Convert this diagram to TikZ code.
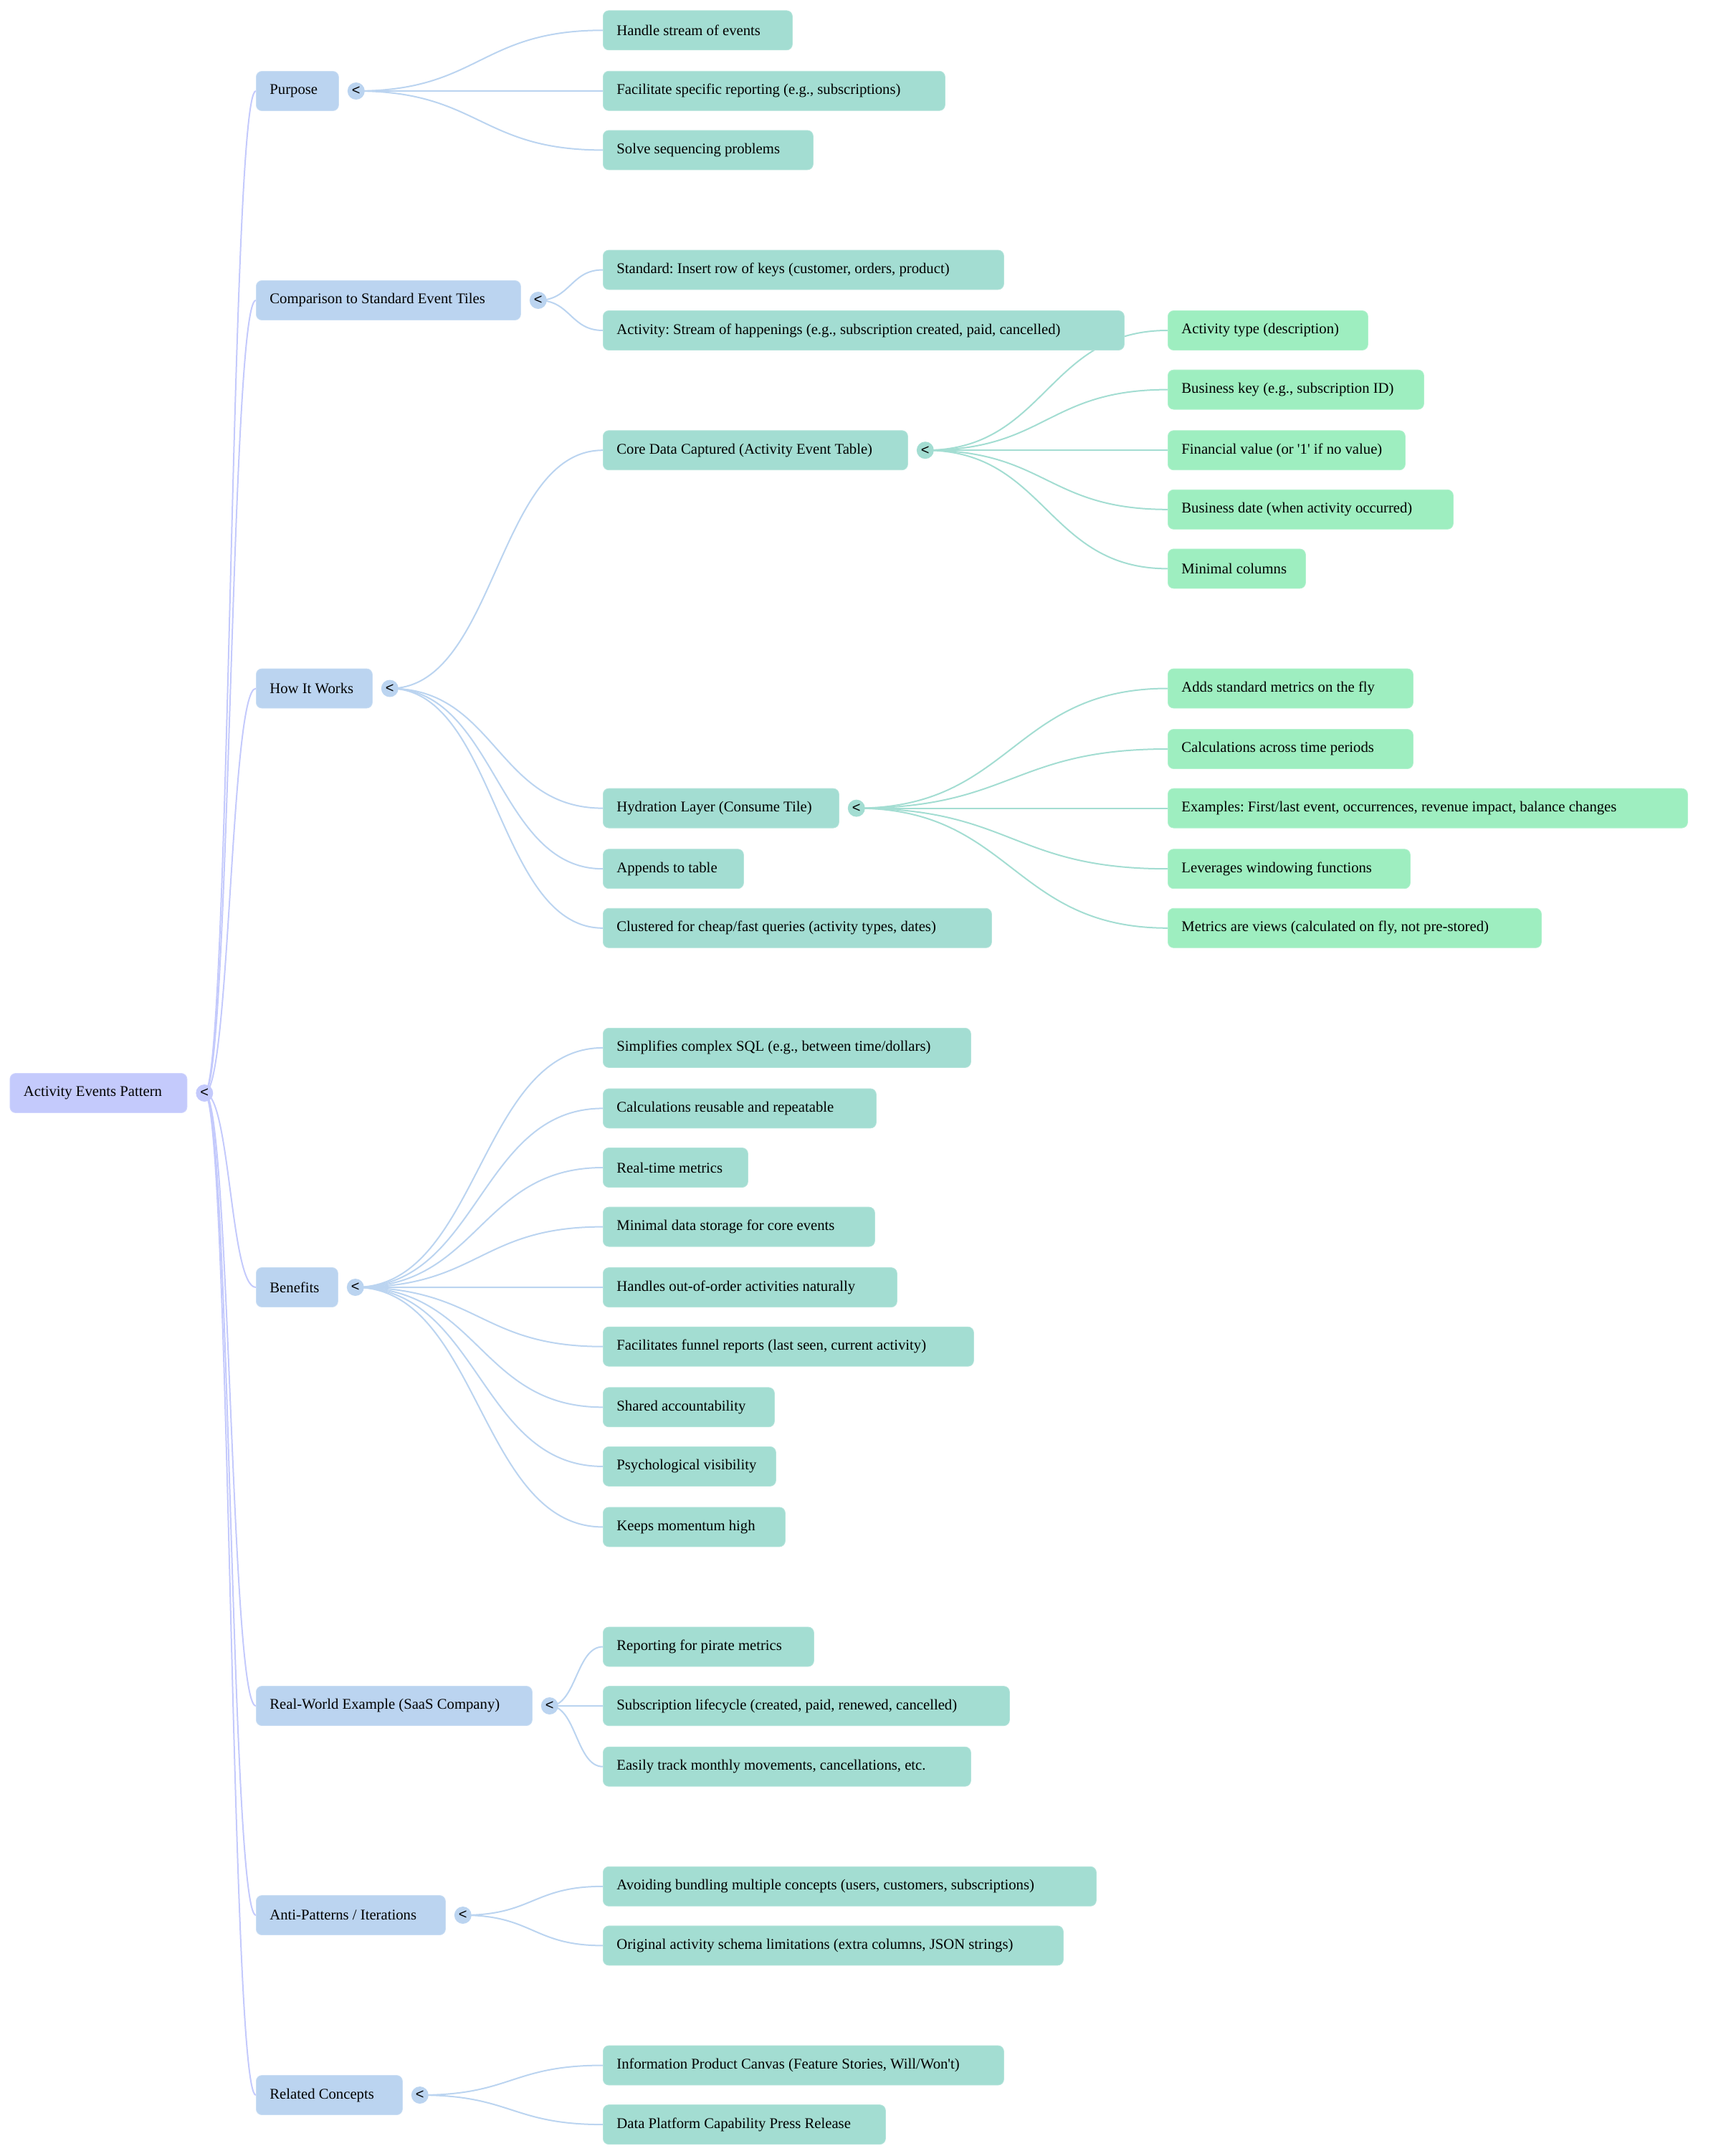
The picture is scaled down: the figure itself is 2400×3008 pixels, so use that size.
\documentclass[tikz,border=0pt]{standalone}
\usepackage{fontspec}
\setmainfont{Liberation Serif}
\newfontfamily\togfont{Liberation Sans}
\usetikzlibrary{calc}
\frenchspacing
\definecolor{c0}{RGB}{196,202,252}
\definecolor{c1}{RGB}{187,212,240}
\definecolor{c2}{RGB}{163,221,210}
\definecolor{c3}{RGB}{158,238,192}
\pgfdeclarelayer{bg}
\pgfsetlayers{bg,main}
\tikzset{
  box/.style={anchor=west, rounded corners=4pt, minimum height=27.5pt,
    inner xsep=9.5pt, inner ysep=0pt, font=\fontsize{10.35}{12}\selectfont\frenchspacing},
  lv0/.style={box, fill=c0, draw=c0!80!white},
  lv1/.style={box, fill=c1, draw=c1!80!white},
  lv2/.style={box, fill=c2, draw=c2!80!white},
  lv3/.style={box, fill=c3, draw=c3!80!white},
  tog/.style={circle, minimum size=12pt, inner sep=0pt, font=\togfont\fontsize{10}{10}\selectfont},
  link/.style={line width=1pt},
}
\newcommand\mmnode[6]{%
  \pgfmathsetmacro\mmtw{(#5-38)*0.5}%
  \node[#1] (#2) at (#3,#4) {\makebox[\mmtw pt][l]{#6}};}
\newcommand\mmtog[2]{%
  \node[tog, fill=#1] (#2T) at ([xshift=12pt]#2.east) {<};}
\newcommand\mmlink[3]{%
  \draw[link, #1] let \p1=(#2T.center), \p2=(#3.west) in
    (\p1) .. controls ({(\x1+\x2)/2},\y1) and ({(\x1+\x2)/2},\y2) .. (\p2);}
\begin{document}
\begin{tikzpicture}[x=0.5pt, y=-0.5pt]
\useasboundingbox (0,0) rectangle (2400,3008);
% root
\mmnode{lv0}{root}{13.5}{1525}{247}{Activity Events Pattern}
% level 1
\mmnode{lv1}{purp}{357}{127}{115}{Purpose}
\mmnode{lv1}{comp}{357}{419}{369}{Comparison to Standard Event Tiles}
\mmnode{lv1}{how}{357}{960.5}{162}{How It Works}
\mmnode{lv1}{ben}{357}{1796}{114}{Benefits}
\mmnode{lv1}{real}{357}{2380}{385}{Real-World Example (SaaS Company)}
\mmnode{lv1}{anti}{357}{2672}{264}{Anti-Patterns / Iterations}
\mmnode{lv1}{rel}{357}{2923}{204}{Related Concepts}
% level 2
\mmnode{lv2}{hse}{841}{42.3}{264}{Handle stream of events}
\mmnode{lv2}{fsr}{841}{126.8}{477}{Facilitate specific reporting (e.g., subscriptions)}
\mmnode{lv2}{ssp}{841}{209.4}{293}{Solve sequencing problems}
\mmnode{lv2}{std}{841}{376.5}{559}{Standard: Insert row of keys (customer, orders, product)}
\mmnode{lv2}{act}{841}{461}{727}{Activity: Stream of happenings (e.g., subscription created, paid, cancelled)}
\mmnode{lv2}{core}{841}{628.2}{425}{Core Data Captured (Activity Event Table)}
\mmnode{lv2}{hyd}{841}{1127.6}{329}{Hydration Layer (Consume Tile)}
\mmnode{lv2}{app}{841}{1212.2}{196}{Appends to table}
\mmnode{lv2}{clu}{841}{1294.8}{542}{Clustered for cheap/fast queries (activity types, dates)}
\mmnode{lv2}{b1}{841}{1461.9}{513}{Simplifies complex SQL (e.g., between time/dollars)}
\mmnode{lv2}{b2}{841}{1546.4}{381}{Calculations reusable and repeatable}
\mmnode{lv2}{b3}{841}{1629}{202}{Real-time metrics}
\mmnode{lv2}{b4}{841}{1711.6}{379}{Minimal data storage for core events}
\mmnode{lv2}{b5}{841}{1796.1}{410}{Handles out-of-order activities naturally}
\mmnode{lv2}{b6}{841}{1878.7}{517}{Facilitates funnel reports (last seen, current activity)}
\mmnode{lv2}{b7}{841}{1963.3}{239}{Shared accountability}
\mmnode{lv2}{b8}{841}{2045.9}{241}{Psychological visibility}
\mmnode{lv2}{b9}{841}{2130.4}{254}{Keeps momentum high}
\mmnode{lv2}{r1}{841}{2297.5}{294}{Reporting for pirate metrics}
\mmnode{lv2}{r2}{841}{2380.1}{567}{Subscription lifecycle (created, paid, renewed, cancelled)}
\mmnode{lv2}{r3}{841}{2464.7}{513}{Easily track monthly movements, cancellations, etc.}
\mmnode{lv2}{a1}{841}{2631.8}{688}{Avoiding bundling multiple concepts (users, customers, subscriptions)}
\mmnode{lv2}{a2}{841}{2714.4}{642}{Original activity schema limitations (extra columns, JSON strings)}
\mmnode{lv2}{c1n}{841}{2881.5}{559}{Information Product Canvas (Feature Stories, Will/Won\textquotesingle t)}
\mmnode{lv2}{c2n}{841}{2964.1}{394}{Data Platform Capability Press Release}
% level 3
\mmnode{lv3}{k1}{1629}{461}{279}{Activity type (description)}
\mmnode{lv3}{k2}{1629}{543.6}{357}{Business key (e.g., subscription ID)}
\mmnode{lv3}{k3}{1629}{628.2}{331}{Financial value (or \textquotesingle 1\textquotesingle{} if no value)}
\mmnode{lv3}{k4}{1629}{710.8}{398}{Business date (when activity occurred)}
\mmnode{lv3}{k5}{1629}{793.4}{192}{Minimal columns}
\mmnode{lv3}{h1}{1629}{960.5}{342}{Adds standard metrics on the fly}
\mmnode{lv3}{h2}{1629}{1045}{342}{Calculations across time periods}
\mmnode{lv3}{h3}{1629}{1127.6}{725}{Examples: First/last event, occurrences, revenue impact, balance changes}
\mmnode{lv3}{h4}{1629}{1212.2}{338}{Leverages windowing functions}
\mmnode{lv3}{h5}{1629}{1294.8}{521}{Metrics are views (calculated on fly, not pre-stored)}
% toggles
\mmtog{c0}{root}
\mmtog{c1}{purp}
\mmtog{c1}{comp}
\mmtog{c1}{how}
\mmtog{c1}{ben}
\mmtog{c1}{real}
\mmtog{c1}{anti}
\mmtog{c1}{rel}
\mmtog{c2}{core}
\mmtog{c2}{hyd}
% links
\begin{pgfonlayer}{bg}
\foreach \t in {purp,comp,how,ben,real,anti,rel} {\mmlink{c0}{root}{\t}}
\foreach \t in {hse,fsr,ssp} {\mmlink{c1}{purp}{\t}}
\foreach \t in {std,act} {\mmlink{c1}{comp}{\t}}
\foreach \t in {core,hyd,app,clu} {\mmlink{c1}{how}{\t}}
\foreach \t in {b1,b2,b3,b4,b5,b6,b7,b8,b9} {\mmlink{c1}{ben}{\t}}
\foreach \t in {r1,r2,r3} {\mmlink{c1}{real}{\t}}
\foreach \t in {a1,a2} {\mmlink{c1}{anti}{\t}}
\foreach \t in {c1n,c2n} {\mmlink{c1}{rel}{\t}}
\foreach \t in {k1,k2,k3,k4,k5} {\mmlink{c2}{core}{\t}}
\foreach \t in {h1,h2,h3,h4,h5} {\mmlink{c2}{hyd}{\t}}
\end{pgfonlayer}
\end{tikzpicture}
\end{document}
